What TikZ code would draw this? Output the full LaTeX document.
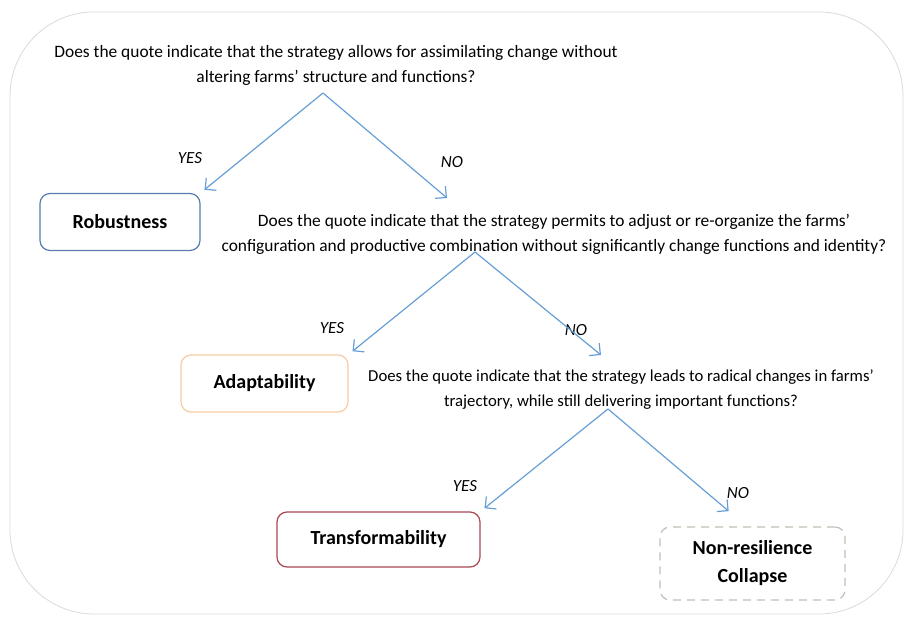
\documentclass[tikz,border=0pt]{standalone}
\usepackage{fontspec}
\setmainfont{Carlito}
\usetikzlibrary{arrows.meta}

\definecolor{arrowblue}{RGB}{104,158,214}
\definecolor{robustblue}{RGB}{88,124,172}
\definecolor{adaptorange}{RGB}{246,204,166}
\definecolor{transfred}{RGB}{168,72,82}
\definecolor{collapsegray}{RGB}{192,192,182}
\definecolor{framegray}{RGB}{218,218,218}

\begin{document}
\begin{tikzpicture}[x=0.5pt,y=-0.5pt,
    answer/.style={draw,rounded corners=5pt,line width=0.6pt,
      font=\fontsize{10}{14}\selectfont\bfseries,align=center},
    branch/.style={draw=arrowblue,line width=0.6pt,shorten >=2.5pt,
      -{Straight Barb[length=4pt,width=8pt]}}]

    % `question' is used for the three questions.
    % `choice' is used for the YES/NO labels.
    \tikzstyle{question} = [align=center,font=\fontsize{8.7}{12.5}\selectfont]
    \tikzstyle{choice} = [font=\fontsize{8.5}{10}\selectfont\itshape]
    %
    \useasboundingbox (0,0) rectangle (905,619);
    \draw[framegray,rounded corners=42pt] (10,12) rectangle (903,614);

    % First question.
    \node[question] (Q1) at (336,65)
      {Does the quote indicate that the strategy allows for assimilating change without\\
       altering farms’ structure and functions?};
    \coordinate (T1) at (323,93);
    \coordinate (N1) at (447,198);
    \node[answer,draw=robustblue,minimum width=80pt,minimum height=28.5pt]
      (A1) at (120,222) {Robustness};
    \node[choice] (Y1) at (190,158) {YES};
    \node[choice] (M1) at (452,162) {NO};
    \draw[branch] (T1) -- (A1.north east);
    \draw[branch,shorten >=0pt] (T1) -- (N1);

    % Second question.
    \node[question] (Q2) at (554,234)
      {Does the quote indicate that the strategy permits to adjust or re-organize the farms’\\
       configuration and productive combination without significantly change functions and identity?};
    \coordinate (T2) at (475,252);
    \coordinate (N2) at (601,355);
    \node[answer,draw=adaptorange,minimum width=83.5pt,minimum height=28.5pt]
      (A2) at (264.5,383.5) {Adaptability};
    \node[choice] (Y2) at (332,328) {YES};
    \node[choice] (M2) at (576,330) {NO};
    \draw[branch] (T2) -- (A2.north east);
    \draw[branch,shorten >=0pt] (T2) -- (N2);

    % Third question.
    \node[question,font=\fontsize{8.35}{12.5}\selectfont] (Q3) at (621,390)
      {Does the quote indicate that the strategy leads to radical changes in farms’\\
       trajectory, while still delivering important functions?};
    \coordinate (T3) at (608,409);
    \node[answer,draw=transfred,minimum width=101.5pt,minimum height=27.5pt]
      (A3) at (378.5,539.5) {Transformability};
    \node[answer,draw=collapsegray,dash pattern=on 4pt off 3pt,
      minimum width=92.5pt,minimum height=36.5pt]
      (A4) at (752.5,563.5) {Non-resilience\\Collapse};
    \node[choice] (Y3) at (465,486) {YES};
    \node[choice] (M3) at (738,493) {NO};
    \draw[branch] (T3) -- (A3.north east);
    \draw[branch] (T3) -- ([xshift=-10pt,yshift=6pt]A4.north);
    %
\end{tikzpicture}
\end{document}
